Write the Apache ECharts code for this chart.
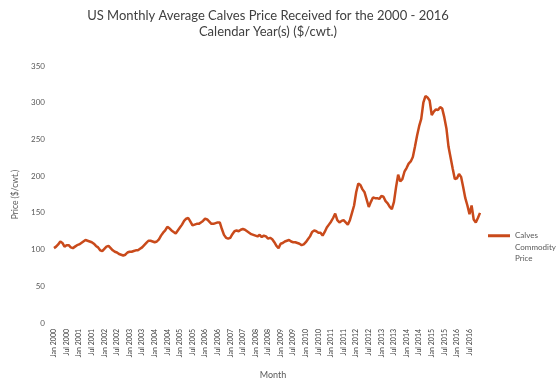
<!DOCTYPE html>
<html>
<head>
<meta charset="utf-8">
<script src="https://cdn.jsdelivr.net/npm/echarts@6/dist/echarts.min.js"></script>
<style>
  html, body { margin: 0; padding: 0; background: #fff; }
  #chart { width: 560px; height: 385px; }
</style>
</head>
<body>
<div id="chart"></div>
<script>
// Monthly calves price received, $/cwt., Jan 2000 through Dec 2016
const monthNames = ['Jan', 'Feb', 'Mar', 'Apr', 'May', 'Jun', 'Jul', 'Aug', 'Sep', 'Oct', 'Nov', 'Dec'];
const years = [2000, 2001, 2002, 2003, 2004, 2005, 2006, 2007, 2008, 2009, 2010, 2011, 2012, 2013, 2014, 2015, 2016];

const price2000 = [102, 104, 107, 111, 109, 104, 106, 106, 103, 102, 104, 106];
const price2001 = [107, 109, 111, 113, 112, 111, 110, 108, 105, 103, 99, 98];
const price2002 = [101, 104, 105, 102, 99, 97, 96, 94, 93, 92, 93, 96];
const price2003 = [97, 97, 98, 99, 99, 101, 103, 106, 109, 112, 112, 111];
const price2004 = [110, 111, 114, 119, 123, 126, 131, 129, 126, 124, 122, 126];
const price2005 = [130, 134, 139, 142, 143, 138, 133, 134, 135, 135, 137, 139];
const price2006 = [142, 141, 138, 135, 135, 136, 137, 137, 128, 120, 116, 115];
const price2007 = [116, 121, 125, 126, 125, 127, 128, 127, 125, 123, 121, 120];
const price2008 = [119, 118, 120, 117, 119, 118, 115, 116, 114, 110, 105, 102];
const price2009 = [108, 109, 111, 112, 113, 111, 110, 110, 109, 108, 106, 107];
const price2010 = [110, 114, 118, 124, 126, 125, 123, 123, 119, 124, 130, 134];
const price2011 = [138, 143, 149, 140, 137, 139, 140, 137, 134, 140, 150, 160];
const price2012 = [178, 190, 188, 182, 178, 168, 158, 165, 171, 170, 170, 169];
const price2013 = [173, 172, 166, 163, 158, 155, 165, 185, 202, 193, 196, 206];
const price2014 = [211, 217, 220, 226, 240, 255, 268, 278, 300, 309, 307, 303];
const price2015 = [283, 288, 291, 290, 294, 292, 280, 265, 240, 225, 210, 196];
const price2016 = [197, 203, 199, 185, 170, 160, 148, 160, 141, 137, 143, 150];

const yTicks = [0, 50, 100, 150, 200, 250, 300, 350];

const months = [];
years.forEach(y => monthNames.forEach(m => months.push(m + ' ' + y)));

const prices = [].concat(
  price2000, price2001, price2002, price2003, price2004, price2005,
  price2006, price2007, price2008, price2009, price2010, price2011,
  price2012, price2013, price2014, price2015, price2016
);

const FONT = 'Lato, "Open Sans", sans-serif';
const GREY = '#595959';
const LINE = '#c94a1b';

const chart = echarts.init(document.getElementById('chart'), null, { renderer: 'canvas' });

chart.setOption({
  backgroundColor: '#ffffff',
  animation: false,
  textStyle: { fontFamily: FONT },
  title: {
    text: 'US Monthly Average Calves Price Received for the 2000 - 2016\nCalendar Year(s) ($/cwt.)',
    left: 263,
    top: 3,
    textAlign: 'center',
    textStyle: {
      fontFamily: FONT,
      fontSize: 13,
      fontWeight: 'normal',
      color: '#404040',
      lineHeight: 16
    }
  },
  legend: {
    orient: 'vertical',
    left: 488,
    top: 207,
    padding: 0,
    icon: 'rect',
    itemWidth: 22,
    itemHeight: 3,
    itemGap: 5,
    // two blank lines ahead keep the icon level with the first word
    formatter: name => ' \n \n' + name.split(' ').join('\n'),
    textStyle: {
      fontFamily: FONT,
      fontSize: 8,
      color: GREY,
      lineHeight: 11.5
    },
    data: [{ name: 'Calves Commodity Price' }]
  },
  grid: {
    left: 54,
    right: 80,
    top: 66,
    bottom: 58,
    containLabel: false
  },
  xAxis: {
    type: 'category',
    data: months,
    boundaryGap: false,
    name: 'Month',
    nameLocation: 'middle',
    nameGap: 48,
    nameTextStyle: {
      fontFamily: FONT,
      fontSize: 9,
      color: GREY,
      padding: [0, 0, 0, 12]
    },
    axisLine: { show: false },
    axisTick: { show: false },
    splitLine: { show: false },
    axisLabel: {
      interval: 5,
      rotate: 90,
      margin: 6,
      fontFamily: FONT,
      fontSize: 7,
      color: '#404040'
    }
  },
  yAxis: {
    type: 'value',
    min: yTicks[0],
    max: yTicks[yTicks.length - 1],
    interval: 50,
    name: 'Price ($/cwt.)',
    nameLocation: 'middle',
    nameGap: 29,
    nameTextStyle: {
      fontFamily: FONT,
      fontSize: 8.5,
      color: GREY
    },
    axisLine: { show: false },
    axisTick: { show: false },
    splitLine: { show: false },
    axisLabel: {
      margin: 9,
      fontFamily: FONT,
      fontSize: 8,
      color: GREY
    }
  },
  series: [{
    name: 'Calves Commodity Price',
    type: 'line',
    data: prices,
    showSymbol: false,
    symbol: 'none',
    smooth: false,
    lineStyle: { color: LINE, width: 2.5 },
    itemStyle: { color: LINE }
  }]
});
</script>
</body>
</html>
